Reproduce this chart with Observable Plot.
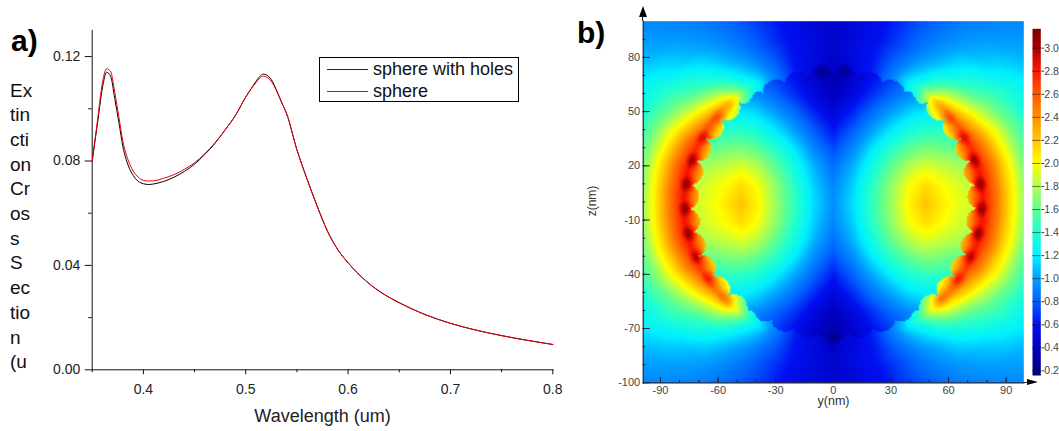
<!DOCTYPE html>
<html><head><meta charset="utf-8">
<script src="https://cdn.jsdelivr.net/npm/d3@7"></script>
<script src="https://cdn.jsdelivr.net/npm/@observablehq/plot@0.6"></script>
<style>
html,body{margin:0;padding:0;background:#fff;}
#root{position:relative;width:1059px;height:431px;overflow:hidden;font-family:"Liberation Sans",Arial,sans-serif;color:#111;}
#root svg{position:absolute;top:0;background:transparent;}
.abs{position:absolute;}
.tag{font-weight:bold;font-size:30px;line-height:30px;color:#000;}
#ylab{left:10px;top:78.5px;font-size:19px;line-height:24.7px;color:#111;}
#legend{left:319px;top:56.5px;width:198px;height:43.5px;border:1px solid #000;font-size:18px;}
#legend div.t{position:absolute;left:53px;line-height:20px;white-space:nowrap;}
#legend div.l{position:absolute;left:7px;width:41px;height:1px;}
#zlab{left:592px;top:201px;font-size:12px;color:#333;transform:translate(-50%,-50%) rotate(-90deg);white-space:nowrap;}
.tri-up{left:639px;top:6px;width:0;height:0;border-left:4px solid transparent;border-right:4px solid transparent;border-bottom:11px solid #000;}
.tri-r{left:1027px;top:378.5px;width:0;height:0;border-top:3.8px solid transparent;border-bottom:3.8px solid transparent;border-left:11px solid #000;}
.stem{background:#223;}
</style></head><body><div id="root"></div>
<script>
// Panel a) series
const wavelength = [.35,.355,.36,.364,.368,.372,.376,.38,.385,.39,.395,.40,.405,.41,.42,.43,.44,.45,.46,.47,.48,.49,.50,.505,.51,.5173,.525,.53,.535,.54,.55,.56,.57,.58,.59,.60,.617,.632,.65,.675,.70,.725,.75,.775,.80];
const sphereWithHoles = [.080,.094,.108,.114,.1125,.104,.095,.0855,.0785,.0745,.0722,.0713,.071,.0712,.0722,.0738,.076,.0788,.0825,.0868,.092,.0975,.1045,.1075,.1105,.1133,.1112,.1072,.1025,.0981,.0843,.0730,.0625,.0530,.0460,.0410,.0342,.0297,.0257,.0212,.0178,.0152,.0131,.0113,.0097];
const sphere = [.080,.095,.110,.1153,.1143,.1065,.097,.0875,.0805,.0762,.0738,.0726,.0723,.0724,.0734,.0748,.0768,.0793,.0828,.087,.092,.0975,.1045,.1075,.110,.1125,.1105,.107,.1025,.0981,.0843,.0730,.0625,.0530,.0460,.0410,.0342,.0297,.0257,.0212,.0178,.0152,.0131,.0113,.0097];
const xMajor = [.4,.5,.6,.7,.8], xMinor = [.35,.45,.55,.65,.75];
const yMajor = [0,.04,.08,.12], yMinor = [.02,.06,.10];

// Panel b) field values
const stops  = [.16,.4,.6,.8,1.0,1.2,1.4,1.6,1.8,2.0,2.2,2.4,2.6,2.8,3.0,3.168];
const stopColors = ["#000080","#0000c0","#0010f0","#0060ff","#00a0ff","#00f0ff","#20ffd0","#60ff90","#b0ff50","#ffff00","#ffc800","#ff9000","#ff5a00","#ff1a00","#a80000","#7a0000"];
// outside the sphere: rows by angle from the horizontal, columns by radius (nm)
const outerAngle = [0,15,25,35,45,55,65,75,90];
const outerRadius = [68,72,76,78,82,86,90,94,100,110,125,145];
const outerField = [
 [2.15,2.4,2.75,2.85,2.65,2.45,2.22,2.0,1.7,1.35,1.1,.9],
 [2.15,2.4,2.75,2.85,2.65,2.45,2.22,2.02,1.72,1.38,1.12,.95],
 [2.05,2.3,2.65,2.75,2.55,2.35,2.13,1.95,1.7,1.4,1.13,.95],
 [1.95,2.15,2.5,2.6,2.3,2.08,1.88,1.72,1.55,1.35,1.13,.95],
 [1.75,1.9,2.25,2.3,2.0,1.75,1.57,1.42,1.3,1.12,1.0,.9],
 [1.25,1.3,1.4,1.45,1.32,1.22,1.15,1.08,1.02,.95,.88,.82],
 [.9,.92,.95,.95,.92,.88,.85,.82,.8,.77,.72,.7],
 [.6,.62,.62,.62,.62,.62,.62,.6,.6,.58,.57,.57],
 [.42,.42,.42,.42,.44,.45,.45,.45,.45,.45,.45,.45]];
// inside the sphere: rows by |z| from the centre, columns by |y| (nm)
const innerZ = [0,10,20,30,40,50,60,70,76];
const innerY = [0,10,20,30,40,48,55,62,70,76];
const innerField = [
 [.95,1.15,1.45,1.75,2.05,2.22,2.1,1.98,1.9,1.88],
 [.92,1.12,1.42,1.72,2.0,2.12,2.03,1.94,1.86,1.84],
 [.85,1.05,1.32,1.6,1.83,1.92,1.87,1.82,1.76,1.74],
 [.75,.93,1.18,1.42,1.6,1.68,1.66,1.62,1.58,1.55],
 [.62,.8,1.0,1.2,1.36,1.43,1.43,1.4,1.35,1.3],
 [.5,.66,.84,1.0,1.15,1.2,1.2,1.15,1.1,1.1],
 [.4,.52,.68,.82,.94,1.0,1.0,1,1,1],
 [.34,.44,.58,.7,.8,.85,.85,.85,.85,.85],
 [.3,.42,.54,.66,.76,.8,.8,.8,.8,.8]];
const lobeAngles = [-88.8,-78.6,-68.4,-58.2,-48,-37.8,-27.6,-17.4,-7.2,3,13.2,23.4,33.6,43.8,54,64.2,74.4,84.6];
const cuspStrength = [[0,.3],[25,.28],[35,.24],[45,.14],[50,0]];
const darkSpots = [[-5.9,72.6],[5.9,72.6],[0,-75]];
const yTicksMajor=[-90,-60,-30,0,30,60,90], zTicksMajor=[-100,-70,-40,-10,20,50,80];
const barTicks=[.2,.4,.6,.8,1,1.2,1.4,1.6,1.8,2,2.2,2.4,2.6,2.8,3];

const root = document.getElementById("root");
const font = `"Liberation Sans",Arial,sans-serif`;
const rows = wavelength.map((w,i)=>({w,holes:sphereWithHoles[i],sphere:sphere[i]}));

// ---------- panel a
const a = Plot.plot({
  width:570,height:431,marginLeft:91.7,marginRight:17.7,marginTop:30,marginBottom:61.7,
  style:{fontFamily:font,background:"transparent",overflow:"visible"},
  x:{domain:[.35,.8]},y:{domain:[0,.13]},
  marks:[
    Plot.axisX(xMinor,{tickSize:3,text:null,label:null,stroke:"#111"}),
    Plot.axisX(xMajor,{tickSize:5,tickPadding:9,fontSize:14,fill:"#222",stroke:"#111",tickFormat:".1f",label:null}),
    Plot.axisX([],{tickSize:0,fontSize:18,fill:"#222",label:"Wavelength (um)",labelAnchor:"center",labelArrow:"none",labelOffset:52}),
    Plot.axisY(yMinor,{tickSize:3.5,text:null,label:null,stroke:"#111"}),
    Plot.axisY(yMajor,{tickSize:7,tickPadding:5,fontSize:14,fill:"#222",stroke:"#111",tickFormat:".2f",label:null}),
    Plot.frame({anchor:"left",stroke:"#111",strokeWidth:1}),
    Plot.frame({anchor:"bottom",stroke:"#111",strokeWidth:1}),
    Plot.line(rows,{x:"w",y:"holes",stroke:"#000",strokeWidth:1,curve:"monotone-x"}),
    Plot.line(rows,{x:"w",y:"sphere",stroke:"#e8000c",strokeWidth:1,curve:"monotone-x"})
  ]
});
a.style.left="0px";
root.append(a);

// ---------- panel b
function lerpIdx(arr,v){
  v=Math.max(arr[0],Math.min(arr[arr.length-1],v));
  let i=d3.bisectRight(arr,v)-1; i=Math.min(i,arr.length-2);
  return [i,(v-arr[i])/(arr[i+1]-arr[i])];
}
function table(rowsA,colsA,g,rv,cv){
  const [i,s]=lerpIdx(rowsA,rv),[j,t]=lerpIdx(colsA,cv);
  return (g[i][j]*(1-t)+g[i][j+1]*t)*(1-s)+(g[i+1][j]*(1-t)+g[i+1][j+1]*t)*s;
}
const cuspAmp=d3.scaleLinear(cuspStrength.map(d=>d[0]),cuspStrength.map(d=>d[1])).clamp(true);
function field(y,z){
  const u=Math.abs(y), zc=z+1, r=Math.hypot(u,zc), th=Math.atan2(zc,u)*180/Math.PI, ath=Math.abs(th);
  const da=d3.min(lobeAngles,l=>Math.abs(l-th));
  const d=73*da*Math.PI/180, bump=Math.sqrt(Math.max(0,1-(d/6.5)**2));
  const k=Math.max(0,Math.min(1,(ath-48)/14)), s=-1+2*k*k*(3-2*k);
  const amp=6-1.5*k;
  const rb=73+s*(amp*bump-amp/2);
  let v;
  if(r>=rb){
    v=table(outerAngle,outerRadius,outerField,ath,r);
    const q=Math.hypot(73*(5.1-da)*Math.PI/180, r-76.5);
    if(q<5) v+=cuspAmp(ath)*(1-q/5);
  } else {
    v=table(innerZ,innerY,innerField,Math.abs(zc),u);
  }
  for(const [sy,sz] of darkSpots){
    const q=Math.hypot(y-sy,z-sz);
    if(q<4.5) v=Math.min(v,.18+(q/4.5)*(v-.18));
  }
  return v;
}
const colorOpt={type:"linear",domain:stops,range:stopColors,interpolate:"rgb"};
const b = Plot.plot({
  width:460,height:431,marginLeft:72.7,marginRight:6.7,marginTop:20.7,marginBottom:48.7,
  style:{fontFamily:font,background:"transparent",overflow:"visible"},
  x:{domain:[-99,99.2]},y:{domain:[-100,100]},
  color:colorOpt,
  marks:[
    Plot.raster({x1:-99,x2:99.2,y1:-100,y2:100,fill:field,pixelSize:1.5,imageRendering:"auto"}),
    Plot.axisX(d3.range(-90,100,10),{anchor:"bottom",tickSize:-2.5,text:null,label:null,stroke:"#223"}),
    Plot.axisX(yTicksMajor,{anchor:"bottom",tickSize:-5.5,tickPadding:8.5,fontSize:11,fill:"#444",stroke:"#223",label:null,tickFormat:d=>d}),
    Plot.axisY(d3.range(-90,100,10),{anchor:"left",tickSize:-2.5,text:null,label:null,stroke:"#223"}),
    Plot.axisY(zTicksMajor,{anchor:"left",tickSize:-7,tickPadding:10,fontSize:11,fill:"#444",stroke:"#223",label:null,tickFormat:d=>d}),
    Plot.axisX([],{anchor:"bottom",tickSize:0,fontSize:12.5,fill:"#333",label:"y(nm)",labelAnchor:"center",labelArrow:"none",labelOffset:22}),
    Plot.frame({anchor:"left",stroke:"#223",strokeWidth:1.2}),
    Plot.frame({anchor:"bottom",stroke:"#223",strokeWidth:1.2})
  ]
});
b.style.left="570px";
b.querySelector("image").style.filter="blur(0.7px)";
root.append(b);

// ---------- colour bar
const bar = Plot.plot({
  width:59,height:431,marginLeft:32,marginRight:18.7,marginTop:28.3,marginBottom:56,
  style:{fontFamily:font,background:"transparent",overflow:"visible"},
  x:{domain:[0,1],axis:null},y:{domain:[.16,3.168]},
  color:colorOpt,
  marks:[
    Plot.raster({x1:0,x2:1,y1:.16,y2:3.168,fill:(x,y)=>y,pixelSize:1}),
    Plot.ruleY(barTicks,{x1:0,x2:1,stroke:"#301010",strokeOpacity:.55}),
    Plot.axisY(barTicks,{anchor:"right",tickSize:3,tickPadding:.5,fontSize:10.5,fill:"#444",stroke:"#444",tickFormat:".1f",label:null})
  ]
});
bar.style.left="1000px";
root.append(bar);

// ---------- text and furniture
const add=(cls,html,css)=>{const e=document.createElement("div");e.className="abs "+cls;if(html)e.innerHTML=html;if(css)e.style.cssText=css;root.append(e);return e;};
add("tag","a)","left:11px;top:26px;");
add("tag","b)","left:577px;top:18px;");
const e=add("","Ex<br>tin<br>cti<br>on<br>Cr<br>os<br>s<br>S<br>ec<br>tio<br>n<br>(u");e.id="ylab";
const lg=add("",`<div class="l" style="top:11.5px;background:#222"></div><div class="t" style="top:1.5px">sphere with holes</div><div class="l" style="top:33.5px;background:#e8000c"></div><div class="t" style="top:23.5px">sphere</div>`);lg.id="legend";
const zl=add("","z(nm)");zl.id="zlab";
add("tri-up");add("tri-r");
add("stem","","left:642.2px;top:16px;width:1.2px;height:5px;");
add("stem","","left:1023px;top:381.8px;width:5px;height:1.2px;");
</script></body></html>
